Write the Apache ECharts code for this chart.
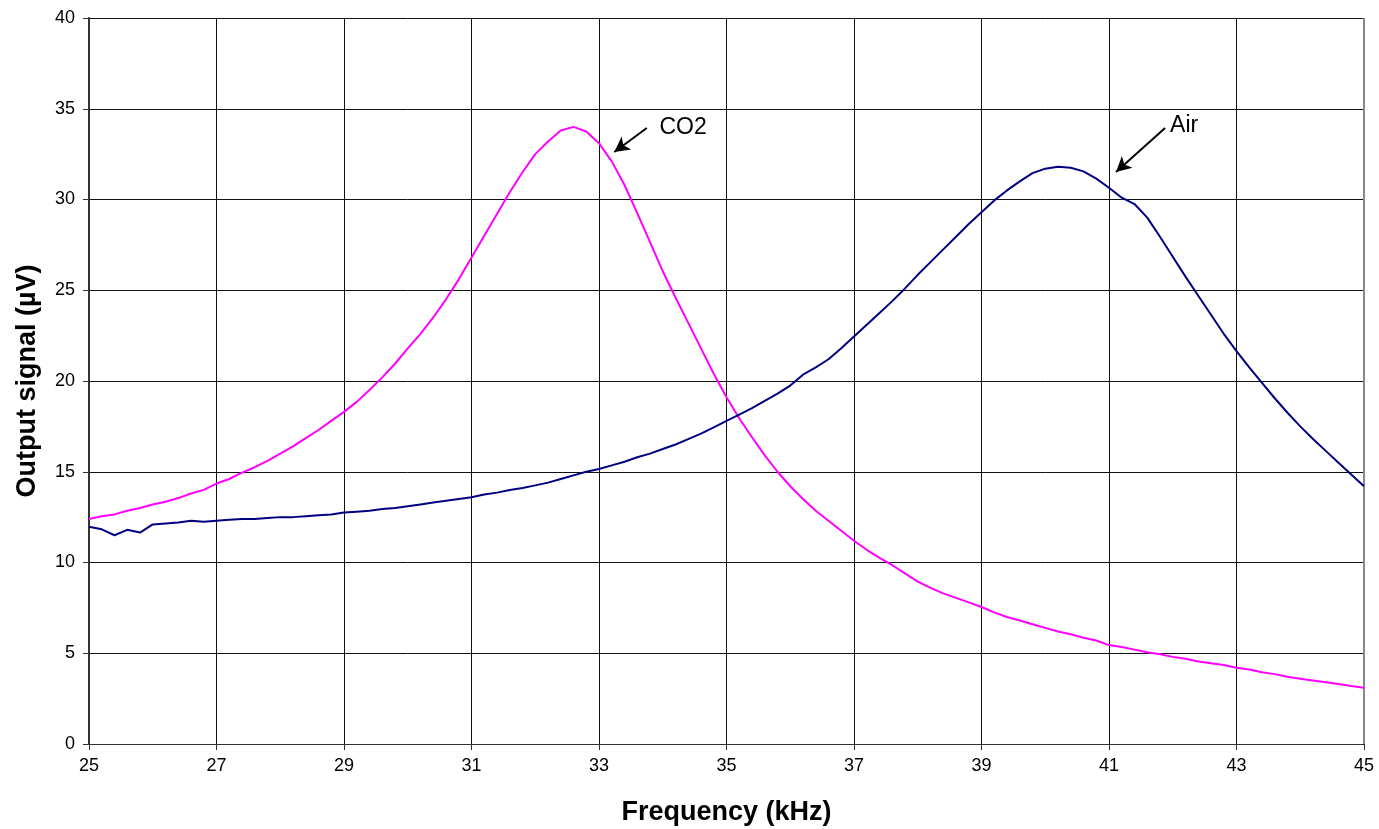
<!DOCTYPE html>
<html lang="en">
<head>
  <meta charset="UTF-8">
  <title>Output signal vs frequency</title>
  <script src="https://cdn.jsdelivr.net/npm/echarts@6/dist/echarts.min.js"></script>
  <style>
    html, body { margin: 0; padding: 0; background: #fff; }
    #chart { width: 1379px; height: 829px; }
  </style>
</head>
<body>
  <div id="chart"></div>
  <script>
    // frequency steps, kHz (25 to 45 every 0.2)
    var freqStart = 25, freqStep = 0.2;

    // output signal, µV
    var co2Values = [
      12.4, 12.55, 12.65, 12.85, 13.0, 13.2, 13.35, 13.55, 13.8, 14.0,
      14.35, 14.6, 14.95, 15.25, 15.6, 16.0, 16.4, 16.85, 17.3, 17.8,
      18.3, 18.85, 19.5, 20.2, 20.95, 21.8, 22.6, 23.5, 24.5, 25.6,
      26.8, 28.0, 29.2, 30.4, 31.5, 32.5, 33.2, 33.8, 34.0, 33.75,
      33.1, 32.1, 30.8, 29.25, 27.65, 26.05, 24.6, 23.2, 21.8, 20.4,
      19.1, 17.95, 16.9, 15.9, 15.0, 14.2, 13.5, 12.85, 12.3, 11.75,
      11.2, 10.7, 10.25, 9.85, 9.4, 8.95, 8.6, 8.3, 8.05, 7.8,
      7.55, 7.25, 7.0, 6.8, 6.6, 6.4, 6.2, 6.05, 5.85, 5.7,
      5.45, 5.35, 5.2, 5.05, 4.95, 4.8, 4.7, 4.55, 4.45, 4.35,
      4.2, 4.1, 3.95, 3.85, 3.7, 3.6, 3.5, 3.4, 3.3, 3.2,
      3.1
    ];
    var airValues = [
      11.97, 11.83, 11.5, 11.8, 11.65, 12.1, 12.15, 12.2, 12.3, 12.25,
      12.3, 12.35, 12.4, 12.4, 12.45, 12.5, 12.5, 12.55, 12.6, 12.65,
      12.75, 12.8, 12.85, 12.95, 13.0, 13.1, 13.2, 13.3, 13.4, 13.5,
      13.6, 13.75, 13.85, 14.0, 14.1, 14.25, 14.4, 14.6, 14.8, 15.0,
      15.15, 15.35, 15.55, 15.8, 16.0, 16.25, 16.5, 16.8, 17.1, 17.45,
      17.8, 18.15, 18.5, 18.9, 19.3, 19.75, 20.35, 20.75, 21.2, 21.8,
      22.45, 23.1, 23.75, 24.4, 25.1, 25.85, 26.55, 27.25, 27.95, 28.65,
      29.3, 29.95, 30.5, 31.0, 31.45, 31.7, 31.8, 31.75, 31.55, 31.15,
      30.65, 30.1, 29.75, 29.0, 27.95, 26.85, 25.75, 24.7, 23.65, 22.6,
      21.65, 20.75, 19.9, 19.05, 18.25, 17.5, 16.8, 16.15, 15.5, 14.85,
      14.2
    ];

    // callouts: label start, arrow tail and arrow head, in data units
    var co2Callout = { text: 'CO2', at: [33.94, 33.94], from: [33.75, 33.94], to: [33.24, 32.62] };
    var airCallout = { text: 'Air', at: [41.95, 34.05], from: [41.88, 33.94], to: [41.11, 31.52] };

    function toPairs(values) {
      return values.map(function (v, i) {
        return [+(freqStart + i * freqStep).toFixed(1), v];
      });
    }

    function calloutLine(c) {
      return {
        silent: true,
        symbol: ['none', 'arrow'],
        symbolSize: [12, 15],
        lineStyle: { color: '#000', width: 2, type: 'solid' },
        label: { show: false },
        data: [[{ coord: c.from }, { coord: c.to }]]
      };
    }

    function calloutText(c) {
      return {
        silent: true,
        symbol: 'circle',
        symbolSize: 1,
        itemStyle: { color: 'rgba(0,0,0,0)' },
        label: {
          show: true, formatter: c.text, color: '#000',
          fontFamily: 'Liberation Sans', fontSize: 23,
          position: 'right', distance: 0
        },
        data: [{ coord: c.at }]
      };
    }

    var chart = echarts.init(document.getElementById('chart'));
    var option = {
      animation: false,
      backgroundColor: '#fff',
      grid: { left: 89, right: 15, top: 18, bottom: 85, containLabel: false, outerBoundsMode: 'none' },
      xAxis: {
        type: 'value', min: 25, max: 45, interval: 2,
        name: 'Frequency (kHz)', nameLocation: 'middle', nameGap: 55,
        nameTextStyle: { fontFamily: 'Liberation Sans', fontWeight: 'bold', fontSize: 27, color: '#000' },
        axisLine: { show: true, lineStyle: { color: '#333', width: 1 } },
        axisTick: { show: true, inside: false, length: 6, lineStyle: { color: '#333' } },
        axisLabel: { fontFamily: 'Liberation Sans', fontSize: 18, color: '#000', margin: 13 },
        splitLine: { show: true, lineStyle: { color: '#111', width: 1 } }
      },
      yAxis: {
        type: 'value', min: 0, max: 40, interval: 5,
        name: 'Output signal (µV)', nameLocation: 'middle', nameGap: 48,
        nameTextStyle: { fontFamily: 'Liberation Sans', fontWeight: 'bold', fontSize: 27, color: '#000' },
        axisLine: { show: true, lineStyle: { color: '#333', width: 2 } },
        axisTick: { show: true, inside: false, length: 6, lineStyle: { color: '#333' } },
        axisLabel: { fontFamily: 'Liberation Sans', fontSize: 18, color: '#000', margin: 14 },
        splitLine: { show: true, lineStyle: { color: '#111', width: 1 } }
      },
      series: [
        {
          name: 'CO2', type: 'line', data: toPairs(co2Values),
          showSymbol: false, smooth: false,
          lineStyle: { color: '#FF00FF', width: 2 },
          markLine: calloutLine(co2Callout),
          markPoint: calloutText(co2Callout)
        },
        {
          name: 'Air', type: 'line', data: toPairs(airValues),
          showSymbol: false, smooth: false,
          lineStyle: { color: '#000080', width: 2 },
          markLine: calloutLine(airCallout),
          markPoint: calloutText(airCallout)
        }
      ]
    };
    chart.setOption(option);

    // plot-area frame on the right in grey, as in the reference
    var r = chart.convertToPixel({ gridIndex: 0 }, [45, 40]);
    var b = chart.convertToPixel({ gridIndex: 0 }, [45, 0]);
    chart.setOption({
      graphic: [{
        type: 'line', silent: true,
        shape: { x1: r[0], y1: r[1], x2: b[0], y2: b[1] },
        style: { stroke: '#888', lineWidth: 2 }
      }]
    });
  </script>
</body>
</html>
